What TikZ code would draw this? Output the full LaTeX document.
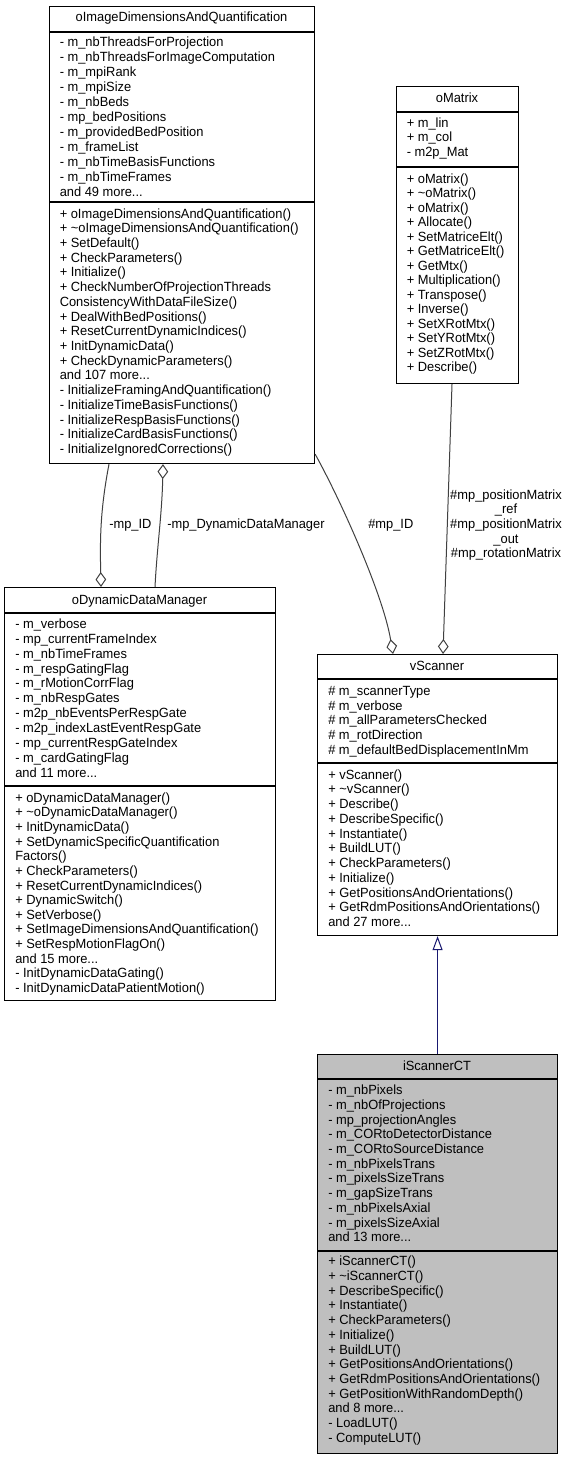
\documentclass[tikz,border=0pt]{standalone}
\usepackage{fontspec}
\setmainfont[FakeStretch=0.965]{Liberation Sans}
\usetikzlibrary{arrows.meta,calc}
\definecolor{edgegray}{HTML}{404040}
\definecolor{inhnavy}{HTML}{191970}
\definecolor{ctgray}{HTML}{BFBFBF}
\newcommand\tdots{...}
\tikzset{
  x=0.75pt, y=-0.75pt,
  cls/.style={draw=black, line width=0.85pt, rectangle, inner sep=0pt, anchor=north west},
  sepl/.style={draw=black, line width=0.85pt},
  txt/.style={font=\fontsize{10}{12}\selectfont, inner sep=0pt, anchor=base west},
  hdr/.style={font=\fontsize{10}{12}\selectfont, inner sep=0pt, anchor=base},
  lbl/.style={font=\fontsize{10}{10.95}\selectfont, inner sep=0pt},
  assoc/.style={draw=edgegray, line width=0.75pt},
  aggend/.style={-{Diamond[length=11.25pt, width=8pt, fill=white]}},
  aggstart/.style={{Diamond[length=11.25pt, width=8pt, fill=white]}-},
  inh/.style={draw=inhnavy, line width=0.75pt, -{Triangle[length=10.5pt, width=7.5pt, fill=white]}}
}
% name, x1, y1, x2, y2, sep1, sep2, fill
\newcommand\umlbox[8]{%
  \node[cls, fill=#8, minimum width={(#4-#2)*0.75pt}, minimum height={(#5-#3)*0.75pt}] (#1) at (#2,#3) {};
  \draw[sepl] ($(#1.north west)+(0,#6-#3)$) -- ($(#1.north east)+(0,#6-#3)$);
  \draw[sepl] ($(#1.north west)+(0,#7-#3)$) -- ($(#1.north east)+(0,#7-#3)$);
}
% name, x, first baseline, step, list
\newcommand\umllines[5]{%
  \foreach \txt [count=\i from 0] in {#5} {\node[txt] (#1-\i) at (#2,{#3+\i*#4}) {\txt};}
}
\begin{document}
\begin{tikzpicture}
\useasboundingbox[fill=white] (0,0) rectangle (571,1459);

% oImageDimensionsAndQuantification
\umlbox{img}{49}{6}{314}{463}{32}{202}{white}
\node[hdr] (img-h) at (181.5,21.5) {oImageDimensionsAndQuantification};
\umllines{img-a}{59.5}{46.7}{14.96}{- m\_nbThreadsForProjection, - m\_nbThreadsForImageComputation, - m\_mpiRank, - m\_mpiSize, - m\_nbBeds, - mp\_bedPositions, - m\_providedBedPosition, - m\_frameList, - m\_nbTimeBasisFunctions, - m\_nbTimeFrames, and 49 more\tdots}
\umllines{img-m}{59.5}{218.1}{14.71}{+ oImageDimensionsAndQuantification(), + \textasciitilde oImageDimensionsAndQuantification(), + SetDefault(), + CheckParameters(), + Initialize(), + CheckNumberOfProjectionThreads, ConsistencyWithDataFileSize(), + DealWithBedPositions(), + ResetCurrentDynamicIndices(), + InitDynamicData(), + CheckDynamicParameters(), and 107 more\tdots, - InitializeFramingAndQuantification(), - InitializeTimeBasisFunctions(), - InitializeRespBasisFunctions(), - InitializeCardBasisFunctions(), - InitializeIgnoredCorrections()}

% oMatrix
\umlbox{mat}{396}{86}{518}{383}{112}{167}{white}
\node[hdr] (mat-h) at (457,103) {oMatrix};
\umllines{mat-a}{406.5}{127.3}{14.7}{+ m\_lin, + m\_col, - m2p\_Mat}
\umllines{mat-m}{406.5}{183}{14.5}{+ oMatrix(), + \textasciitilde oMatrix(), + oMatrix(), + Allocate(), + SetMatriceElt(), + GetMatriceElt(), + GetMtx(), + Multiplication(), + Transpose(), + Inverse(), + SetXRotMtx(), + SetYRotMtx(), + SetZRotMtx(), + Describe()}

% oDynamicDataManager
\umlbox{ddm}{4}{587}{275}{1000}{613}{786}{white}
\node[hdr] (ddm-h) at (139.5,604) {oDynamicDataManager};
\umllines{ddm-a}{15}{628.3}{14.9}{- m\_verbose, - mp\_currentFrameIndex, - m\_nbTimeFrames, - m\_respGatingFlag, - m\_rMotionCorrFlag, - m\_nbRespGates, - m2p\_nbEventsPerRespGate, - m2p\_indexLastEventRespGate, - mp\_currentRespGateIndex, - m\_cardGatingFlag, and 11 more\tdots}
\umllines{ddm-m}{15}{802.3}{14.62}{+ oDynamicDataManager(), + \textasciitilde oDynamicDataManager(), + InitDynamicData(), + SetDynamicSpecificQuantification, Factors(), + CheckParameters(), + ResetCurrentDynamicIndices(), + DynamicSwitch(), + SetVerbose(), + SetImageDimensionsAndQuantification(), + SetRespMotionFlagOn(), and 15 more\tdots, - InitDynamicDataGating(), - InitDynamicDataPatientMotion()}

% vScanner
\umlbox{vs}{317}{654}{557}{935}{679}{763}{white}
\node[hdr] (vs-h) at (437,670.7) {vScanner};
\umllines{vs-a}{328}{695.7}{14.6}{\# m\_scannerType, \# m\_verbose, \# m\_allParametersChecked, \# m\_rotDirection, \# m\_defaultBedDisplacementInMm}
\umllines{vs-m}{328}{779}{14.77}{+ vScanner(), + \textasciitilde vScanner(), + Describe(), + DescribeSpecific(), + Instantiate(), + BuildLUT(), + CheckParameters(), + Initialize(), + GetPositionsAndOrientations(), + GetRdmPositionsAndOrientations(), and 27 more\tdots}

% iScannerCT
\umlbox{ct}{317}{1054}{557}{1453}{1079}{1251}{ctgray}
\node[hdr] (ct-h) at (437,1070.7) {iScannerCT};
\umllines{ct-a}{328}{1094.7}{14.7}{- m\_nbPixels, - m\_nbOfProjections, - mp\_projectionAngles, - m\_CORtoDetectorDistance, - m\_CORtoSourceDistance, - m\_nbPixelsTrans, - m\_pixelsSizeTrans, - m\_gapSizeTrans, - m\_nbPixelsAxial, - m\_pixelsSizeAxial, and 13 more\tdots}
\umllines{ct-m}{328}{1265.7}{14.72}{+ iScannerCT(), + \textasciitilde iScannerCT(), + DescribeSpecific(), + Instantiate(), + CheckParameters(), + Initialize(), + BuildLUT(), + GetPositionsAndOrientations(), + GetRdmPositionsAndOrientations(), + GetPositionWithRandomDepth(), and 8 more\tdots, - LoadLUT(), - ComputeLUT()}

% connectors
\draw[assoc, aggend] ($(img.south west)+(60,0)$) .. controls +(-9,47) and +(-1,-47) .. ($(ddm.north west)+(97,0)$);
\draw[assoc, aggstart] ($(img.south west)+(114,0)$) .. controls +(-1,50) and +(2,-40) .. ($(ddm.north west)+(151,0)$);
\draw[assoc, aggend] ($(img.south east)+(0,-10)$) .. controls +(25,45) and +(-10,-60) .. ($(vs.north west)+(76,0)$);
\draw[assoc, aggend] ($(mat.south west)+(56,0)$) -- ($(vs.north west)+(126,0)$);
\draw[inh] (ct.north) -- (vs.south);

% labels
\node[lbl, anchor=base west] (l-id1) at (109,528) {-mp\_ID};
\node[lbl, anchor=base west] (l-ddm) at (167,528) {-mp\_DynamicDataManager};
\node[lbl, anchor=base west] (l-id2) at (368,528) {\#mp\_ID};
\node[lbl, align=center] (l-mat) at (506,525) {\#mp\_positionMatrix\\\_ref\\\#mp\_positionMatrix\\\_out\\\#mp\_rotationMatrix};
\end{tikzpicture}
\end{document}
